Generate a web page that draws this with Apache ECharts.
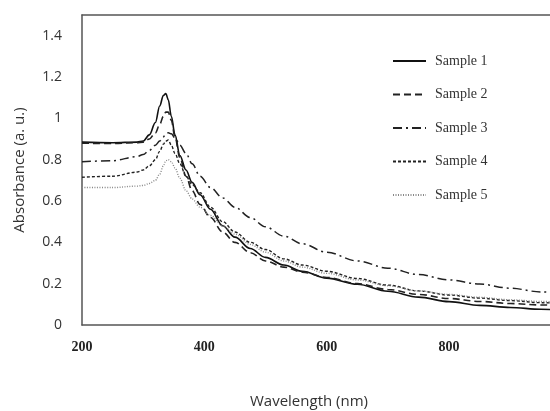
<!DOCTYPE html>
<html>
<head>
<meta charset="utf-8">
<script src="https://cdn.jsdelivr.net/npm/echarts@6/dist/echarts.min.js"></script>
<style>html,body{margin:0;padding:0;background:#fff;}#c{width:550px;height:411px;}</style>
</head>
<body>
<div id="c"></div>
<script>
var wavelengths = [200, 250, 290, 300, 310, 320, 327, 333, 337, 341, 346, 352, 360, 370, 380, 393, 410, 430, 450, 475, 500, 530, 560, 600, 650, 700, 750, 800, 850, 900, 950, 1000];
var sample1 = [0.885, 0.882, 0.885, 0.89, 0.92, 0.98, 1.06, 1.11, 1.12, 1.09, 1.01, 0.92, 0.82, 0.75, 0.69, 0.63, 0.56, 0.48, 0.425, 0.37, 0.327, 0.29, 0.26, 0.227, 0.197, 0.163, 0.135, 0.113, 0.095, 0.085, 0.076, 0.068];
var sample2 = [0.88, 0.878, 0.882, 0.885, 0.9, 0.93, 0.97, 1.01, 1.03, 1.03, 0.99, 0.91, 0.81, 0.72, 0.65, 0.583, 0.52, 0.45, 0.4, 0.35, 0.31, 0.28, 0.256, 0.23, 0.2, 0.172, 0.148, 0.128, 0.114, 0.104, 0.097, 0.09];
var sample3 = [0.79, 0.795, 0.815, 0.825, 0.845, 0.87, 0.89, 0.91, 0.925, 0.93, 0.925, 0.905, 0.87, 0.83, 0.78, 0.72, 0.665, 0.615, 0.57, 0.52, 0.475, 0.43, 0.393, 0.352, 0.31, 0.275, 0.244, 0.218, 0.198, 0.178, 0.16, 0.147];
var sample4 = [0.715, 0.72, 0.74, 0.75, 0.77, 0.8, 0.84, 0.875, 0.89, 0.895, 0.87, 0.83, 0.78, 0.72, 0.68, 0.64, 0.57, 0.5, 0.45, 0.4, 0.365, 0.32, 0.29, 0.26, 0.225, 0.193, 0.165, 0.145, 0.13, 0.118, 0.108, 0.1];
var sample5 = [0.665, 0.665, 0.672, 0.675, 0.685, 0.7, 0.73, 0.77, 0.795, 0.8, 0.79, 0.76, 0.71, 0.65, 0.61, 0.57, 0.53, 0.48, 0.44, 0.39, 0.352, 0.31, 0.28, 0.25, 0.218, 0.19, 0.165, 0.148, 0.134, 0.122, 0.114, 0.108];
var seriesNames = ['Sample 1', 'Sample 2', 'Sample 3', 'Sample 4', 'Sample 5'];
var xTicks = [200, 400, 600, 800];
var yTicks = [0, 0.2, 0.4, 0.6, 0.8, 1, 1.2, 1.4];

var allData = [sample1, sample2, sample3, sample4, sample5];
var styles = [
  {color: '#111', type: 'solid', width: 1.6},
  {color: '#222', type: [7, 4], width: 1.6},
  {color: '#222', type: [9, 4, 2, 4], width: 1.5},
  {color: '#222', type: [3, 2], width: 1.4},
  {color: '#888', type: [1, 1.5], width: 1.4}
];
function pairs(arr) { return wavelengths.map(function (w, i) { return [w, arr[i]]; }); }

var axisLineStyle = {color: '#555', width: 1.5};
var chart = echarts.init(document.getElementById('c'), null, {renderer: 'canvas'});
chart.setOption({
  animation: false,
  backgroundColor: '#fff',
  grid: {left: 82, top: 15, bottom: 86, right: 0, outerBoundsMode: 'none', containLabel: false},
  legend: {
    orient: 'vertical', left: 387, top: 49, itemWidth: 33, itemHeight: 12, itemGap: 19.5,
    data: seriesNames,
    itemStyle: {opacity: 0},
    textStyle: {fontFamily: 'Liberation Serif', fontSize: 14, color: '#333', padding: [0, 0, 0, 4]}
  },
  xAxis: [{
    type: 'value', min: 200, max: 965, interval: 200,
    name: 'Wavelength (nm)', nameLocation: 'middle', nameGap: 69,
    nameTextStyle: {fontFamily: 'Open Sans', fontSize: 15, color: '#333', padding: [0, 14, 0, 0]},
    axisLine: {show: true, lineStyle: axisLineStyle},
    axisTick: {show: false}, splitLine: {show: false},
    axisLabel: {margin: 15, showMaxLabel: false, fontFamily: 'Liberation Serif', fontWeight: 'bold', fontSize: 14, color: '#222',
      formatter: function (v) { return xTicks.indexOf(v) >= 0 ? String(v) : ''; }}
  }, {
    type: 'value', position: 'top', min: 200, max: 965, interval: 200,
    axisLine: {show: true, onZero: false, lineStyle: axisLineStyle},
    axisTick: {show: false}, axisLabel: {show: false}, splitLine: {show: false}
  }],
  yAxis: {
    type: 'value', min: 0, max: 1.5, interval: 0.2,
    name: 'Absorbance (a. u.)', nameLocation: 'middle', nameGap: 55,
    nameTextStyle: {fontFamily: 'Open Sans', fontSize: 15, color: '#333'},
    axisLine: {show: true, lineStyle: axisLineStyle},
    axisTick: {show: false}, splitLine: {show: false},
    axisLabel: {margin: 20, showMaxLabel: false, fontFamily: 'Open Sans', fontSize: 14, color: '#333',
      formatter: function (v) { var r = Math.round(v * 10) / 10; return yTicks.indexOf(r) >= 0 ? String(r) : ''; }}
  },
  series: allData.map(function (d, i) {
    return {
      name: seriesNames[i], type: 'line', data: pairs(d), showSymbol: false, symbol: 'none',
      smooth: 0.35, smoothMonotone: 'x', clip: true,
      lineStyle: styles[i], itemStyle: {color: styles[i].color}
    };
  })
});
</script>
</body>
</html>
